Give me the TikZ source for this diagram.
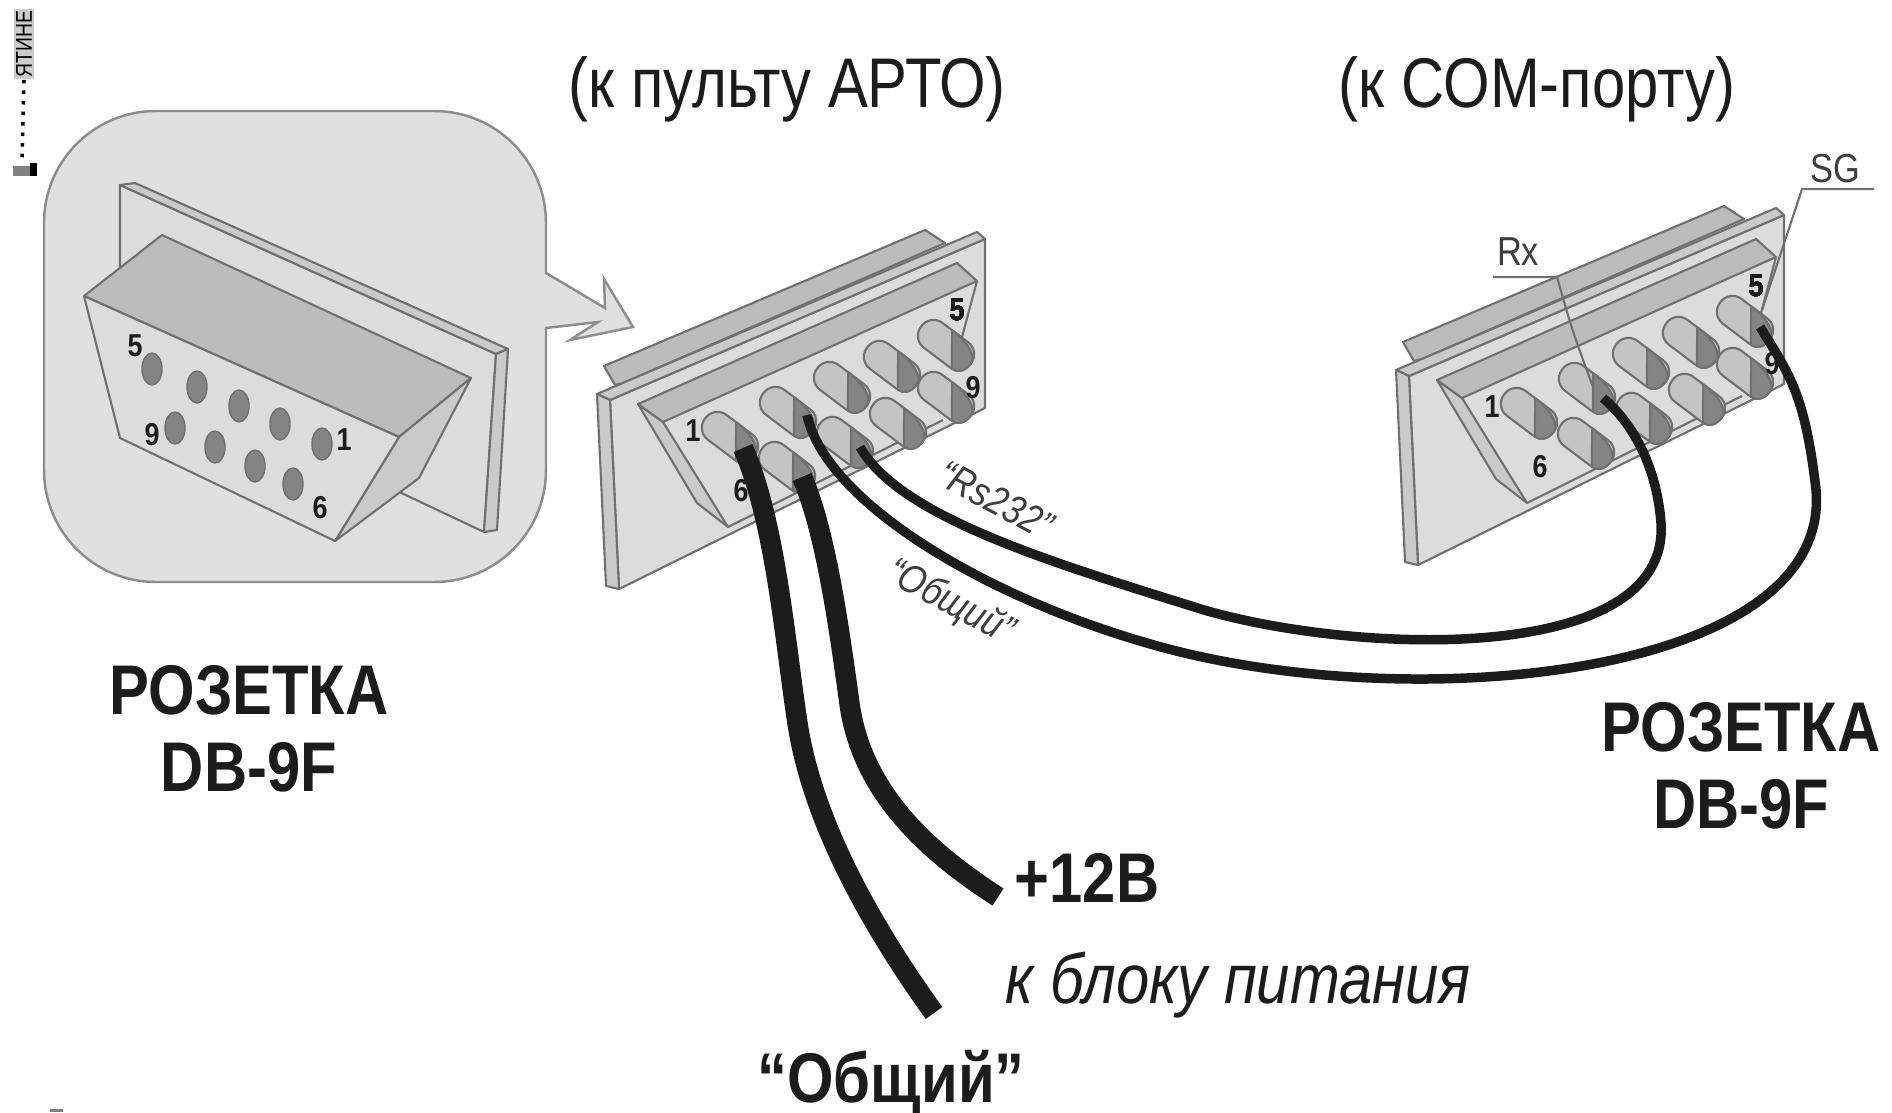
\documentclass[tikz,border=0pt]{standalone}
\usepackage{fontspec}
\setmainfont{Liberation Sans}
\newfontfamily\narrowfont[FakeStretch=0.85]{Liberation Sans}
\usetikzlibrary{positioning}

\definecolor{bubblegray}{HTML}{E0E0E0}
\definecolor{linegray}{HTML}{707070}
\definecolor{facegray}{HTML}{DCDCDC}
\definecolor{shellgray}{HTML}{BCBCBC}
\definecolor{sidegray}{HTML}{CACACA}
\definecolor{pinlight}{HTML}{C4C4C4}
\definecolor{pindark}{HTML}{848484}
\definecolor{inkblack}{HTML}{1C1C1C}

\tikzset{
  part/.style={draw=linegray,line width=0.6pt,line join=round},
  bigcable/.style={draw=inkblack,line width=5.8pt},
  smallcable/.style={draw=inkblack,line width=2.7pt},
  leader/.style={draw=linegray,line width=0.6pt},
  headline/.style={font=\narrowfont\fontsize{20}{24}\selectfont,text=inkblack,inner sep=0pt},
  socketname/.style={font=\narrowfont\bfseries\fontsize{20}{22}\selectfont,text=inkblack,align=center,inner sep=0pt},
  boldnote/.style={font=\narrowfont\bfseries\fontsize{20}{24}\selectfont,text=inkblack,inner sep=0pt},
  pinnum/.style={font=\narrowfont\bfseries\fontsize{9}{10}\selectfont,text=inkblack,inner sep=0pt},
  cablenote/.style={font=\narrowfont\itshape\fontsize{11.5}{13}\selectfont,text=inkblack!85,inner sep=0pt,rotate=-28},
  smallnote/.style={font=\narrowfont\fontsize{11.5}{13}\selectfont,text=inkblack!85,inner sep=0pt},
}

% one slanted pin, light body and dark tip
\newcommand{\longpin}[2]{%
\begin{scope}[shift={(#1,#2)},rotate=-37]
\draw[part,fill=pinlight,rounded corners=4.2pt] (-31,-15.5) rectangle (31,15.5);
\draw[part,fill=pindark] (-4,-15.5) .. controls (14,-15.5) and (31,-10) .. (31,0) .. controls (31,10) and (26,15.5) .. (19,15.5) -- cycle;
\end{scope}}

% the socket seen from the back, used twice
\newcommand{\backsocket}{%
\draw[part,fill=shellgray] (604,366) -- (925,230) -- (945,243) -- (623,383) -- (615,385) -- cycle;
\draw[part,fill=facegray] (610,400) -- (985,239) -- (985,408) -- (619,589) -- cycle;
\draw[part,fill=sidegray] (597,394) -- (977,232) -- (985,239) -- (610,400) -- cycle;
\draw[part,fill=sidegray] (597,394) -- (610,400) -- (619,589) -- (606,586) -- cycle;
\draw[part,fill=sidegray] (638,404) -- (697,503) -- (728,527) -- (663,422) -- cycle;
\draw[part,fill=shellgray] (638,404) -- (957,263) -- (977,281) -- (663,422) -- cycle;
\draw[part] (977,281) -- (962,337);
\draw[part] (728,527) -- (943,420);
\foreach \pinx/\piny in {946/345,892/366,842/387,788/412,730/437,946/397,898/423,845/442,787/467}
  \longpin{\pinx}{\piny}
\node[pinnum] (numfive) at (957,310) {5};
\node[pinnum] (numnine) at (973,388) {9};
\node[pinnum] (numone) at (693,431) {1};
\node[pinnum] (numsix) at (741,491) {6};
}

\begin{document}
\begin{tikzpicture}[x=0.01cm,y=-0.01cm]
\useasboundingbox (0,0) rectangle (1892,1112);

% corner marks of the scan
\node[font=\narrowfont\fontsize{6.5}{7}\selectfont,fill=gray!40,inner sep=0.5pt,rotate=90] (scantext) at (24,44) {ЯТИНЕ};
\coordinate (scanfoot) at (22,164);
\draw[line width=1pt,dotted] (scantext.west) -- (scanfoot);
\fill[gray] (13,166) rectangle (37,176);
\fill[black] (30,163) rectangle (37,176);
\fill[gray] (50,1109) rectangle (63,1112);

% bubble with its arrow
\draw[draw=linegray!80,line width=0.7pt,fill=bubblegray] (156,111) -- (434,111) .. controls (496,111) and (546,161) .. (546,223) -- (546,273) -- (605,308) -- (604,279) -- (633,327) -- (570,340) -- (598,322) -- (546,328) -- (546,470) .. controls (546,532) and (496,582) .. (434,582) -- (156,582) .. controls (94,582) and (44,532) .. (44,470) -- (44,223) .. controls (44,161) and (94,111) .. (156,111) -- cycle;

% front view of the socket
\draw[part,fill=facegray] (120,185) -- (496,354) -- (484,532) -- (120,360) -- cycle;
\draw[part,fill=sidegray] (120,185) -- (135,183) -- (508,349) -- (496,354) -- cycle;
\draw[part,fill=sidegray] (496,354) -- (508,349) -- (497,530) -- (484,532) -- cycle;
\draw[part,fill=shellgray] (84,296) -- (162,235) -- (471,378) -- (399,437) -- cycle;
\draw[part,fill=sidegray] (399,437) -- (471,378) -- (419,478) -- (335,541) -- cycle;
\draw[part,fill=facegray] (84,296) -- (399,437) -- (335,541) -- (120,438) -- cycle;
\foreach \holex/\holey in {152/369,197/387,239/406,280/424,322/444,175/428,215/447,255/466,293/484}
  \draw[draw=linegray,fill=pindark] (\holex,\holey) ellipse (10 and 16);
\node[pinnum] (frontfive) at (135,346) {5};
\node[pinnum] (frontone) at (344,440) {1};
\node[pinnum] (frontnine) at (152,435) {9};
\node[pinnum] (frontsix) at (320,508) {6};

\backsocket
\begin{scope}[shift={(799,-24)}]
\backsocket
\end{scope}

% thin leaders on the right socket
\coordinate (rxtail) at (1493,277);
\coordinate (rxbend) at (1557,277);
\coordinate (rxpin) at (1593,387);
\coordinate (sgtail) at (1874,189);
\coordinate (sgbend) at (1802,189);
\coordinate (sgpin) at (1762,310);
\draw[leader] (rxtail) -- (rxbend) .. controls (1572,330) .. (rxpin);
\draw[leader] (sgtail) -- (sgbend) -- (sgpin);
\node[smallnote] (rxlabel) at (1518,252) {Rx};
\node[smallnote] (sglabel) at (1835,169) {SG};

% cables
\coordinate (thinstart) at (860,447);
\coordinate (thinend) at (1603,398);
\coordinate (commonstart) at (807,415);
\coordinate (commonend) at (1760,327);
\coordinate (groundstart) at (743,448);
\coordinate (groundend) at (934,1013);
\coordinate (powerstart) at (802,477);
\coordinate (powerend) at (998,897);
\draw[smallcable] (thinstart) .. controls (900,517) and (1050,562) .. (1204,610) .. controls (1360,655) and (1670,665) .. (1661,523) .. controls (1657,470) and (1635,425) .. (thinend);
\draw[smallcable] (commonstart) .. controls (825,500) and (980,595) .. (1147,643) .. controls (1400,718) and (1832,680) .. (1816,490) .. controls (1805,395) and (1790,375) .. (commonend);
\draw[bigcable] (groundstart) .. controls (775,520) and (785,640) .. (797,720) .. controls (810,810) and (860,910) .. (groundend);
\draw[bigcable] (powerstart) .. controls (825,530) and (838,620) .. (849,700) .. controls (860,790) and (925,850) .. (powerend);

% texts
\node[headline] (artotitle) at (787,89) {(к пульту АРТО)};
\node[headline] (comtitle) at (1537,89) {(к СОМ-порту)};
\node[socketname] (leftsocket) at (249,729) {РОЗЕТКА\\DB-9F};
\node[socketname] (rightsocket) at (1741,766) {РОЗЕТКА\\DB-9F};
\node[boldnote] (plusnote) at (1087,878) {+12В};
\node[headline,font=\narrowfont\itshape\fontsize{20}{24}\selectfont] (supplynote) at (1238,985) {к блоку питания};
\node[boldnote] (groundnote) at (891,1083) {“Общий”};
\node[cablenote] (rsnote) at (996,500) {“Rs232”};
\node[cablenote] (commonnote) at (950,603) {“Общий”};
\end{tikzpicture}
\end{document}
